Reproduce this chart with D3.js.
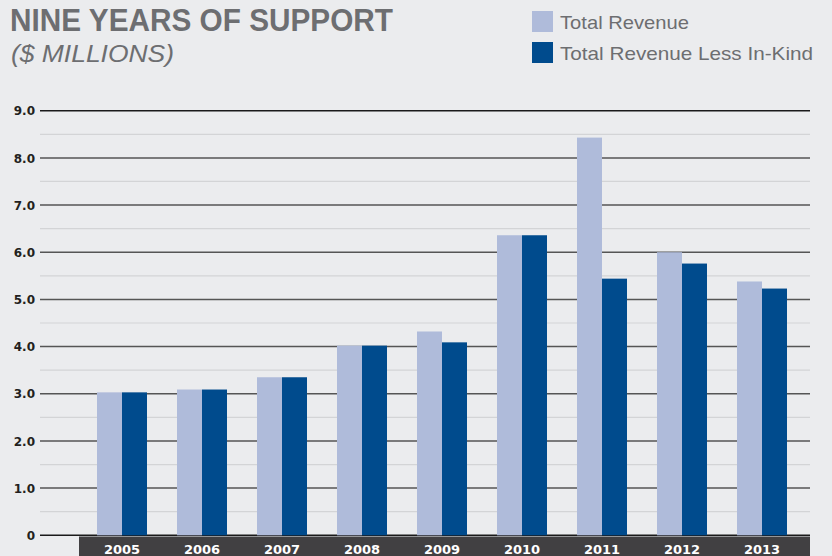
<!DOCTYPE html>
<html><head><meta charset="utf-8">
<script src="https://cdn.jsdelivr.net/npm/d3@7"></script>
<style>
html,body{margin:0;padding:0;background:#ebecee;}
svg{display:block;}
</style></head>
<body>
<svg id="chart" width="832" height="556"></svg>
<script>
const years = ["2005","2006","2007","2008","2009","2010","2011","2012","2013"];
const seriesNames = ["Total Revenue","Total Revenue Less In-Kind"];
const totalRevenue = [3.03, 3.09, 3.35, 4.02, 4.32, 6.36, 8.43, 6.00, 5.38];
const lessInKind   = [3.03, 3.09, 3.35, 4.02, 4.09, 6.36, 5.44, 5.76, 5.23];
const majorTicks = [0,1,2,3,4,5,6,7,8,9];
const minorTicks = [0.5,1.5,2.5,3.5,4.5,5.5,6.5,7.5,8.5];
const tickLabels = ["0","1.0","2.0","3.0","4.0","5.0","6.0","7.0","8.0","9.0"];

const colors = ["#afbbda","#004b8d"];
const svg = d3.select("#chart");
const W = 832, H = 556;
svg.append("rect").attr("width",W).attr("height",H).attr("fill","#ebecee");

const gridLeft = 40, gridRight = 810;
const y = d3.scaleLinear().domain([0,9]).range([535.3,110.7]);
const x0 = d3.scaleBand().domain(years).range([82,802]).paddingInner(0).paddingOuter(0);
const x1 = d3.scaleBand().domain(seriesNames).range([15,65]);

// minor grid
svg.append("g").selectAll("line").data(minorTicks).join("line")
  .attr("x1",gridLeft).attr("x2",gridRight)
  .attr("y1",d=>y(d)).attr("y2",d=>y(d))
  .attr("stroke","#d3d4d6").attr("stroke-width",1.2);
// major grid
svg.append("g").selectAll("line").data(majorTicks).join("line")
  .attr("x1",gridLeft).attr("x2",gridRight)
  .attr("y1",d=>y(d)).attr("y2",d=>y(d))
  .attr("stroke",(d)=> d===9||d===0 ? "#1a1a1a" : "#555")
  .attr("stroke-width",1.5);

// axis labels
const yAxis = d3.axisLeft(y).tickValues(majorTicks).tickFormat((d,i)=>tickLabels[i]).tickSize(0).tickPadding(0);
const ga = svg.append("g").attr("transform",`translate(35,0)`).call(yAxis);
ga.select(".domain").remove();
ga.selectAll("text").attr("font-family","'DejaVu Sans', sans-serif").attr("font-weight","bold")
  .attr("font-size",12).attr("fill","#231f20").attr("dy","0.35em");

// bottom band
svg.append("rect").attr("x",79).attr("y",536.5).attr("width",gridRight-79).attr("height",H-536.5).attr("fill","#414042");

// bars
const data = years.map((yr,i)=>({year:yr, vals:[totalRevenue[i], lessInKind[i]]}));
const groups = svg.append("g").selectAll("g").data(data).join("g")
  .attr("transform",d=>`translate(${x0(d.year)},0)`);
groups.selectAll("rect").data(d=>d.vals.map((v,j)=>({name:seriesNames[j],v,j}))).join("rect")
  .attr("x",d=>x1(d.name)).attr("width",x1.bandwidth())
  .attr("y",d=>y(d.v)).attr("height",d=>y(0)-y(d.v))
  .attr("fill",d=>colors[d.j]);

// year labels
svg.append("g").selectAll("text").data(years).join("text")
  .attr("x",d=>x0(d)+x0.bandwidth()/2).attr("y",554)
  .attr("text-anchor","middle")
  .attr("font-family","'DejaVu Sans', sans-serif").attr("font-weight","bold")
  .attr("font-size",13).attr("fill","#ffffff").text(d=>d);

// title
svg.append("text").attr("x",10).attr("y",31)
  .attr("font-family","'Liberation Sans', Arial, sans-serif").attr("font-weight","bold")
  .attr("font-size",32).attr("fill","#6d6e71")
  .attr("textLength",383).attr("lengthAdjust","spacingAndGlyphs")
  .text("NINE YEARS OF SUPPORT");
svg.append("text").attr("x",11).attr("y",62)
  .attr("font-family","'Liberation Sans', Arial, sans-serif").attr("font-style","italic")
  .attr("font-size",24).attr("fill","#6d6e71")
  .attr("textLength",163).attr("lengthAdjust","spacingAndGlyphs")
  .text("($ MILLIONS)");

// legend
const lg = svg.append("g").selectAll("g").data(seriesNames).join("g")
  .attr("transform",(d,i)=>`translate(532,${11+i*31})`);
lg.append("rect").attr("width",21).attr("height",21).attr("fill",(d,i)=>colors[i]);
lg.append("text").attr("x",28).attr("y",18)
  .attr("font-family","'Liberation Sans', Arial, sans-serif")
  .attr("font-size",19).attr("fill","#6d6e71")
  .attr("textLength",(d,i)=> i===0?129:253).attr("lengthAdjust","spacingAndGlyphs")
  .text(d=>d);
</script>
</body></html>
